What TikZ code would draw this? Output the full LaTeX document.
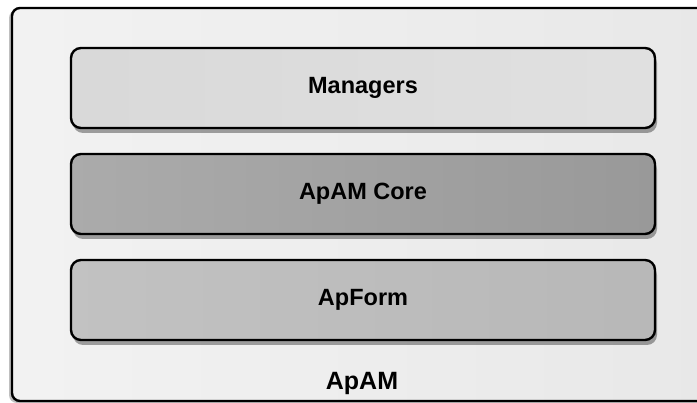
\documentclass[tikz,border=0pt]{standalone}
\usepackage{fontspec}
\setmainfont{Liberation Sans}
\usetikzlibrary{positioning, shadows, shapes.misc}
\tikzset{
  layerbox/.style={draw=black, line width=2.4pt, rounded corners=10pt,
    minimum width=584pt, minimum height=80pt, font=\fontsize{23.5}{28}\selectfont\bfseries,
    drop shadow={shadow xshift=2pt, shadow yshift=-5pt, opacity=0.35, fill=black}},
  layertext/.style={font=\fontsize{25}{30}\selectfont\bfseries}
}
\begin{document}
\begin{tikzpicture}[x=1pt, y=-1pt]
  \useasboundingbox (0,0) rectangle (697,403);
  \fill[white] (0,0) rectangle (697,403);
  % outer container, runs past the right and bottom edge
  \draw[line width=2.4pt, rounded corners=8pt, left color=black!5, right color=black!9,
    drop shadow={shadow xshift=-3pt, shadow yshift=-2pt, opacity=0.25, fill=black}]
    (12,8) rectangle (712,401);
  \node[layerbox, left color=black!15, right color=black!12] (managers) at (363,88) {Managers};
  \node[layerbox, left color=black!33, right color=black!40, below=23.6pt of managers] (core) {ApAM Core};
  \node[layerbox, left color=black!24, right color=black!28, below=23.6pt of core] (apform) {ApForm};
  \node[layertext] (apam) at (362,383) {ApAM};
\end{tikzpicture}
\end{document}
